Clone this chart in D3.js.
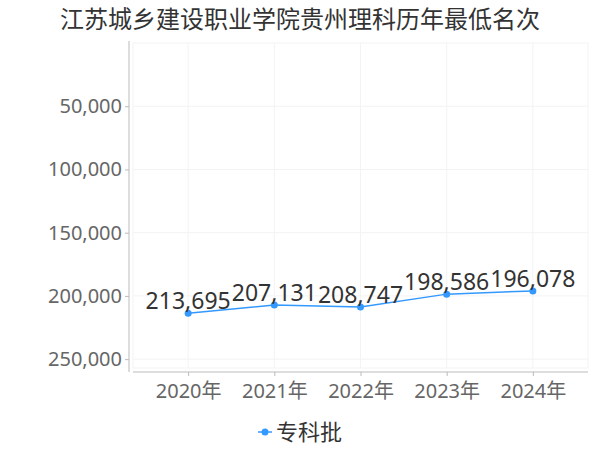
<!DOCTYPE html>
<html>
<head>
<meta charset="utf-8">
<script src="https://cdn.jsdelivr.net/npm/d3@7"></script>
<style>
    body { margin: 0; background: #fff; }
    svg { font-family: "Noto Sans", "Noto Sans CJK SC", sans-serif; }
</style>
</head>
<body>
<svg id="chart"></svg>
<script>
const WIDTH = 600;
const HEIGHT = 450;

const TITLE = '江苏城乡建设职业学院贵州理科历年最低名次';
const years = ['2020年', '2021年', '2022年', '2023年', '2024年'];
const seriesName = '专科批';
const ranks = [213695, 207131, 208747, 198586, 196078];
const yTicks = [50000, 100000, 150000, 200000, 250000];

const COLOR = '#3399ff';

function makeChart() {
    let svg = d3.select('#chart')
        .attr('width', WIDTH)
        .attr('height', HEIGHT);

    // plot area
    const left = 133, right = 588, top = 43, bottom = 368;

    let x = d3.scalePoint()
        .domain(years)
        .range([left, right])
        .padding(0.64);

    // lower rank is better, so the axis runs downwards
    let y = d3.scaleLinear()
        .domain([0, 257000])
        .range([top, bottom]);

    svg.append('text')
        .attr('x', WIDTH / 2)
        .attr('y', 28)
        .attr('text-anchor', 'middle')
        .style('font-family', '"Noto Sans CJK SC", sans-serif')
        .style('font-size', '24px')
        .style('fill', '#333')
        .text(TITLE);

    // grid
    let grid = svg.append('g').attr('class', 'grid');
    grid.selectAll('.hline')
        .data(yTicks)
        .enter().append('line')
        .attr('x1', left).attr('x2', right)
        .attr('y1', d => y(d)).attr('y2', d => y(d))
        .style('stroke', '#f3f3f3');
    grid.selectAll('.vline')
        .data(years)
        .enter().append('line')
        .attr('x1', d => x(d)).attr('x2', d => x(d))
        .attr('y1', top).attr('y2', bottom)
        .style('stroke', '#f3f3f3');
    grid.append('rect')
        .attr('x', left).attr('y', top)
        .attr('width', right - left).attr('height', bottom - top)
        .style('fill', 'none')
        .style('stroke', '#f3f3f3');

    // axes
    let yAxis = d3.axisLeft(y)
        .tickValues(yTicks)
        .tickFormat(d3.format(','))
        .tickSize(4)
        .tickPadding(3);
    let gy = svg.append('g')
        .attr('transform', 'translate(129,0)')
        .call(yAxis);
    gy.select('.domain').attr('d', `M0,${top - 2}V${bottom + 4}`);

    let xAxis = d3.axisBottom(x)
        .tickSize(4)
        .tickPadding(8);
    let gx = svg.append('g')
        .attr('transform', `translate(0,${bottom + 4})`)
        .call(xAxis);
    gx.select('.domain').attr('d', `M${left},0H${right}`);

    svg.selectAll('.domain, .tick line').style('stroke', '#bbb');
    svg.selectAll('.tick text')
        .style('font-size', '20px')
        .style('fill', '#666')
        .style('font-family', '"Noto Sans", "Noto Sans CJK SC", sans-serif');

    // line
    let pts = years.map((yr, i) => [x(yr), y(ranks[i])]);
    svg.append('path')
        .datum(pts)
        .attr('d', d3.line())
        .style('fill', 'none')
        .style('stroke', COLOR)
        .style('stroke-width', 1.5);

    svg.selectAll('.dot')
        .data(pts)
        .enter().append('circle')
        .attr('cx', d => d[0]).attr('cy', d => d[1])
        .attr('r', 3.5)
        .style('fill', COLOR);

    svg.selectAll('.val')
        .data(ranks)
        .enter().append('text')
        .attr('x', (d, i) => x(years[i]))
        .attr('y', d => y(d) - 4)
        .attr('text-anchor', 'middle')
        .style('font-size', '23px')
        .style('fill', '#333')
        .text(d => d3.format(',')(d));

    // legend
    let lg = svg.append('g').attr('transform', 'translate(258,432)');
    lg.append('line')
        .attr('x1', 0).attr('x2', 14)
        .style('stroke', COLOR).style('stroke-width', 1.5);
    lg.append('circle')
        .attr('cx', 7).attr('r', 3.5)
        .style('fill', COLOR);
    lg.append('text')
        .attr('x', 18).attr('dy', '0.35em')
        .style('font-family', '"Noto Sans CJK SC", sans-serif')
        .style('font-size', '22px')
        .style('fill', '#333')
        .text(seriesName);
}

window.onload = makeChart;
</script>
</body>
</html>
